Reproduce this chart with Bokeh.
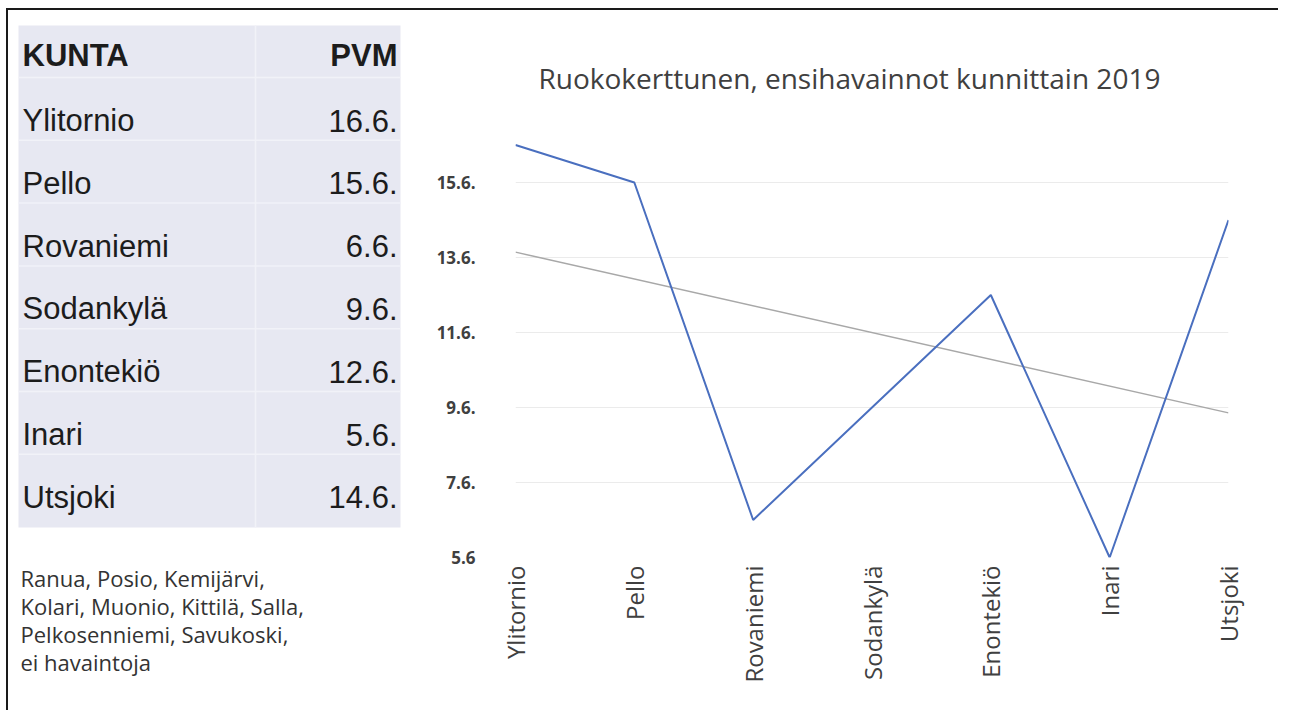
import numpy as np
from bokeh.plotting import figure
from bokeh.layouts import row
from bokeh.models import Range1d, FixedTicker
from bokeh.core.properties import value
from bokeh.embed import file_html
from bokeh.resources import INLINE

# ---------------- data ----------------
municipalities = ["Ylitornio", "Pello", "Rovaniemi", "Sodankylä", "Enontekiö", "Inari", "Utsjoki"]
first_day = [16, 15, 6, 9, 12, 5, 14]          # day of June of first observation
date_labels = ["16.6.", "15.6.", "6.6.", "9.6.", "12.6.", "5.6.", "14.6."]
header = ["KUNTA", "PVM"]
no_obs_lines = ["Ranua, Posio, Kemijärvi,", "Kolari, Muonio, Kittilä, Salla,",
                "Pelkosenniemi, Savukoski,", "ei havaintoja"]
y_ticks = [5, 7, 9, 11, 13, 15]
y_tick_labels = ["5.6", "7.6.", "9.6.", "11.6.", "13.6.", "15.6."]
title_text = "Ruokokerttunen, ensihavainnot kunnittain 2019"

TXT = "#1c1c1c"
GREY = "#404040"

# ---------------- table panel ----------------
TW, TH = 410, 700
t = figure(width=TW, height=TH, x_range=Range1d(0, TW), y_range=Range1d(TH, 0),
           toolbar_location=None, output_backend="svg", min_border=0,
           x_axis_location=None, y_axis_location=None, outline_line_color=None)
t.frame_align = False
t.xgrid.grid_line_color = None
t.ygrid.grid_line_color = None

t.quad(left=[10], right=[392], top=[15], bottom=[517], fill_color="#e7e8f2", line_color=None)

n = len(municipalities)
row_base = [110 + 62.8 * i for i in range(n)]
sep_y = [67 + 62.8 * i for i in range(n)]
t.segment(x0=[10] * n, x1=[392] * n, y0=sep_y, y1=sep_y, line_color="#f1f2f8", line_width=1.5)
t.segment(x0=[247], x1=[247], y0=[15], y1=[517], line_color="#f1f2f8", line_width=1.5)

FS = "31px"
t.text(x=[14], y=[45], text=[header[0]], text_font=value("Liberation Sans"),
       text_font_size=FS, text_font_style="bold", text_color=TXT, text_baseline="alphabetic")
t.text(x=[389], y=[45], text=[header[1]], text_font=value("Liberation Sans"),
       text_font_size=FS, text_font_style="bold", text_color=TXT, text_baseline="alphabetic",
       text_align="right")
t.text(x=[14] * n, y=row_base, text=municipalities, text_font=value("Liberation Sans"),
       text_font_size=FS, text_color=TXT, text_baseline="alphabetic")
t.text(x=[389] * n, y=row_base, text=date_labels, text_font=value("Liberation Sans"),
       text_font_size=FS, text_color=TXT, text_baseline="alphabetic", text_align="right")

m = len(no_obs_lines)
t.text(x=[12] * m, y=[567 + 28 * i for i in range(m)], text=no_obs_lines,
       text_font=value("Open Sans"), text_font_size="22px", text_color="#333333",
       text_baseline="alphabetic")

# ---------------- chart panel ----------------
xs = list(range(1, n + 1))
p = figure(width=860, height=700, x_range=Range1d(1, n), y_range=Range1d(5, 17),
           toolbar_location=None, output_backend="svg",
           min_border_left=97, min_border_right=50, min_border_top=97, min_border_bottom=153,
           outline_line_color=None, title=title_text)
p.frame_align = False
p.title.align = "left"
p.title.offset = 23
p.title.text_font = "Open Sans"
p.title.text_font_size = "28px"
p.title.text_font_style = "normal"
p.title.text_color = GREY
p.title.standoff = 22

coef = np.polyfit(xs, first_day, 1)
trend = np.polyval(coef, [1, n])
p.line(x=[1, n], y=trend, line_color="#a8a8a8", line_width=1.5)
p.line(x=xs, y=first_day, line_color="#4a6fbf", line_width=2)

p.xgrid.grid_line_color = None
p.ygrid.ticker = FixedTicker(ticks=y_ticks)
p.ygrid.grid_line_color = "#ebebeb"
p.ygrid.grid_line_width = 1

p.xaxis.ticker = FixedTicker(ticks=xs)
p.xaxis.major_label_overrides = {x: name for x, name in zip(xs, municipalities)}
p.xaxis.major_label_orientation = np.pi / 2
p.xaxis.major_label_text_font = "Open Sans"
p.xaxis.major_label_text_font_size = "24px"
p.xaxis.major_label_text_color = GREY
p.xaxis.major_label_standoff = 8

p.yaxis.ticker = FixedTicker(ticks=y_ticks)
p.yaxis.major_label_overrides = {v: s for v, s in zip(y_ticks, y_tick_labels)}
p.yaxis.major_label_text_font = "Open Sans"
p.yaxis.major_label_text_font_size = "17px"
p.yaxis.major_label_text_font_style = "bold"
p.yaxis.major_label_text_color = GREY
p.yaxis.major_label_standoff = 40

for ax in (p.xaxis, p.yaxis):
    ax.axis_line_color = None
    ax.major_tick_line_color = None
    ax.minor_tick_line_color = None
    ax.major_tick_out = 0
    ax.major_tick_in = 0

layout = row(t, p, styles={"border-top": "2px solid #1a1a1a", "border-left": "2px solid #1a1a1a",
                           "margin-top": "8px", "margin-left": "6px"})

open("out.html", "w").write(file_html(layout, INLINE))
